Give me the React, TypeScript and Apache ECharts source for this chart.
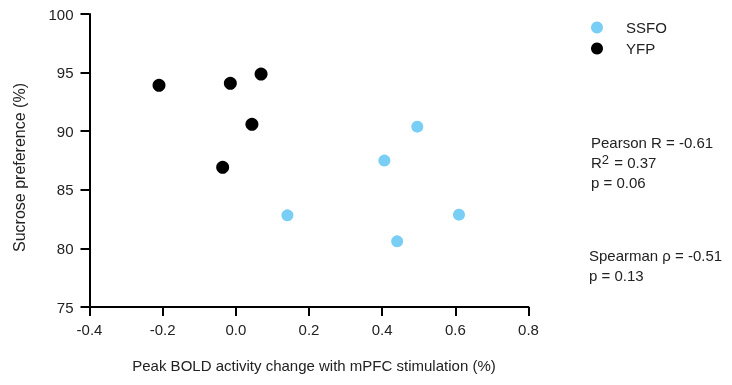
import React, { useEffect, useRef } from "react";
import * as echarts from "echarts";

const ssfoX = [0.141, 0.406, 0.496, 0.441, 0.61];
const ssfoY = [82.82, 87.49, 90.39, 80.6, 82.88];
const yfpX = [-0.21, -0.015, 0.069, 0.044, -0.036];
const yfpY = [93.92, 94.09, 94.88, 90.59, 86.92];
const seriesNames = ["SSFO", "YFP"];
const xTicks = { min: -0.4, max: 0.8, interval: 0.2 };
const yTicks = { min: 75, max: 100, interval: 5 };
const xTitle = "Peak BOLD activity change with mPFC stimulation (%)";
const yTitle = "Sucrose preference (%)";
const statsPearson = ["Pearson R = -0.61", "{r|R}{sup|2}{r| = 0.37}", "p = 0.06"];
const statsSpearman = ["Spearman ρ = -0.51", "p = 0.13"];

const FONT = "Liberation Sans, Arial, sans-serif";
const FS = 15;
const BLUE = "#78CEF4";
const TXT = "#222";

export default function App() {
  const ref = useRef<HTMLDivElement>(null);
  useEffect(() => {
    if (!ref.current) return;
    const chart = echarts.init(ref.current, undefined, { renderer: "svg" });
    const axisCommon = {
      axisLine: { show: true, onZero: false, lineStyle: { color: "#000", width: 2 } },
      axisTick: { show: true, inside: false, length: 9, lineStyle: { color: "#000", width: 2 } },
      splitLine: { show: false },
    };
    chart.setOption({
      animation: false,
      textStyle: { fontFamily: FONT },
      grid: { left: 89.5, right: 203.5, top: 14, bottom: 78, containLabel: false },
      xAxis: {
        type: "value",
        ...axisCommon,
        min: xTicks.min,
        max: xTicks.max,
        interval: xTicks.interval,
        name: xTitle,
        nameLocation: "middle",
        nameGap: 51,
        nameTextStyle: { color: TXT, fontSize: FS, fontFamily: FONT, padding: [0, 0, 0, 10] },
        axisLabel: {
          color: TXT,
          fontSize: FS,
          fontFamily: FONT,
          margin: 15,
          formatter: (v: number) => v.toFixed(1),
        },
      },
      yAxis: {
        type: "value",
        ...axisCommon,
        min: yTicks.min,
        max: yTicks.max,
        interval: yTicks.interval,
        name: yTitle,
        nameLocation: "middle",
        nameGap: 62,
        nameRotate: 90,
        nameTextStyle: { color: TXT, fontSize: 16, fontFamily: FONT, padding: [0, 14, 0, 0] },
        axisLabel: { color: TXT, fontSize: FS, fontFamily: FONT, margin: 16 },
      },
      legend: {
        orient: "vertical",
        left: 586,
        top: 15,
        itemWidth: 12,
        itemHeight: 12,
        itemGap: 6,
        icon: "circle",
        data: seriesNames,
        textStyle: { color: TXT, fontSize: FS, fontFamily: FONT, padding: [5, 0, 0, 18] },
      },
      series: [
        {
          name: seriesNames[0],
          type: "scatter",
          symbolSize: 12,
          itemStyle: { color: BLUE, opacity: 1 },
          data: ssfoX.map((x, i) => [x, ssfoY[i]]),
        },
        {
          name: seriesNames[1],
          type: "scatter",
          symbolSize: 13,
          itemStyle: { color: "#000", opacity: 1 },
          data: yfpX.map((x, i) => [x, yfpY[i]]),
        },
      ],
      graphic: [
        {
          type: "text",
          left: 591,
          top: 133,
          style: {
            text: statsPearson.join("\n"),
            fill: TXT,
            fontSize: FS,
            fontFamily: FONT,
            lineHeight: 19.7,
            rich: {
              r: { fontSize: FS, fill: TXT, fontFamily: FONT, lineHeight: 19.7 },
              sup: { fontSize: 13, fill: TXT, fontFamily: FONT, verticalAlign: "top", lineHeight: 19.7, padding: [0, 1, 0, 0] },
            },
          },
        },
        {
          type: "text",
          left: 589,
          top: 246,
          style: {
            text: statsSpearman.join("\n"),
            fill: TXT,
            fontSize: FS,
            fontFamily: FONT,
            lineHeight: 19.7,
          },
        },
      ],
    });
    return () => chart.dispose();
  }, []);
  return <div ref={ref} style={{ position: "fixed", left: 0, top: 0, width: 732, height: 385 }} />;
}
